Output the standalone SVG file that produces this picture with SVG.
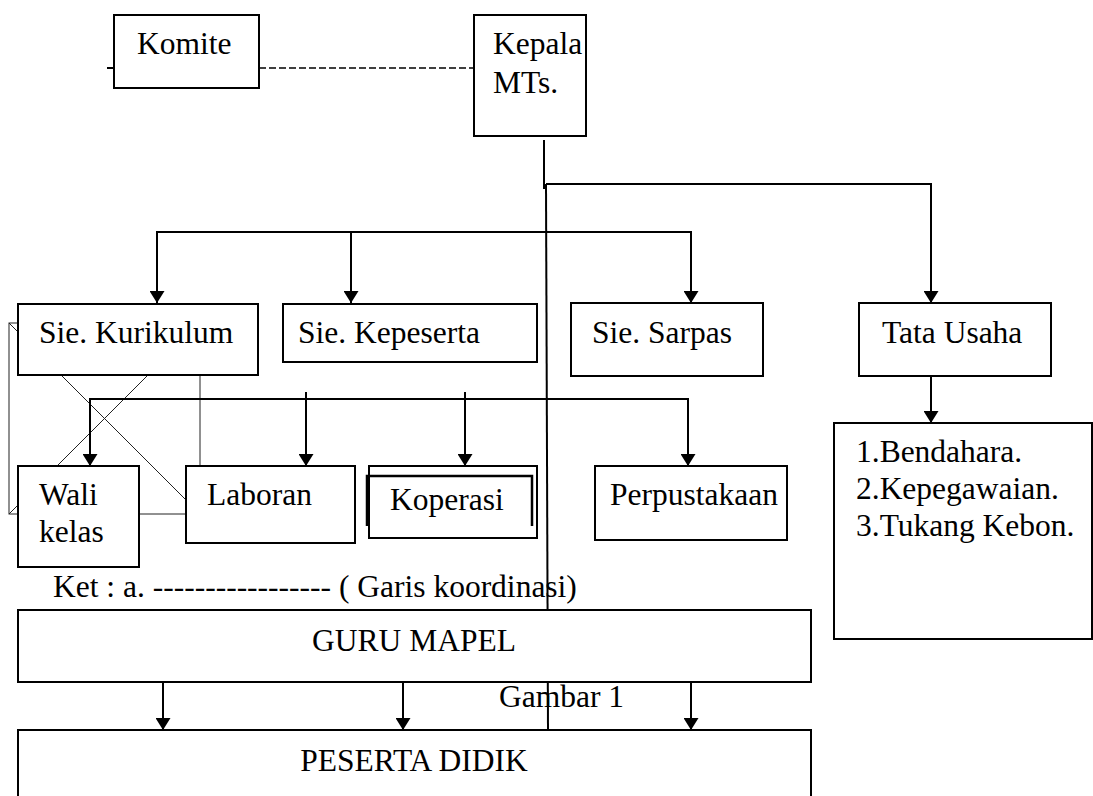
<svg xmlns="http://www.w3.org/2000/svg" width="1093" height="796" viewBox="0 0 1093 796">
<style>
text{font-family:"Liberation Serif","Times New Roman",serif;font-size:31.5px;fill:#000}
.box{fill:#fff;stroke:#000;stroke-width:2}
.ln{fill:none;stroke:#000;stroke-width:2}
.thin{fill:none;stroke:#222;stroke-width:1}
</style>
<defs>
<marker id="ah" viewBox="0 0 12 15" refX="12" refY="7.5" markerWidth="12" markerHeight="15" orient="auto" markerUnits="userSpaceOnUse"><path d="M0,0 L12,7.5 L0,15 z" fill="#000"/></marker>
</defs>
<g id="connectors">
<rect class="thin" x="9" y="323" width="191" height="191"/>
<line class="thin" x1="9" y1="323" x2="200" y2="514"/>
<line class="thin" x1="9" y1="514" x2="200" y2="323"/>
<line class="ln" x1="107" y1="68" x2="114" y2="68"/>
<line x1="259" y1="68" x2="474" y2="68" stroke="#000" stroke-width="1.5" stroke-dasharray="7,3"/>
<line class="ln" x1="544" y1="140" x2="544" y2="189"/>
<line class="ln" x1="546" y1="184" x2="548" y2="730"/>
<polyline class="ln" points="546,184 931,184 931,303" marker-end="url(#ah)"/>
<polyline class="ln" points="157,303 157,232 691,232 691,303" marker-end="url(#ah)"/>
<line class="ln" x1="157" y1="232" x2="157" y2="303" marker-end="url(#ah)"/>
<line class="ln" x1="351" y1="232" x2="351" y2="303" marker-end="url(#ah)"/>
<line class="ln" x1="931" y1="376" x2="931" y2="423" marker-end="url(#ah)"/>
<polyline class="ln" points="90,466 90,399 688,399 688,466" marker-end="url(#ah)"/>
<line class="ln" x1="90" y1="399" x2="90" y2="466" marker-end="url(#ah)"/>
<line class="ln" x1="306" y1="392" x2="306" y2="466" marker-end="url(#ah)"/>
<line class="ln" x1="465" y1="392" x2="465" y2="466" marker-end="url(#ah)"/>
<line class="ln" x1="163" y1="682" x2="163" y2="730" marker-end="url(#ah)"/>
<line class="ln" x1="403" y1="682" x2="403" y2="730" marker-end="url(#ah)"/>
<line class="ln" x1="691" y1="682" x2="691" y2="730" marker-end="url(#ah)"/>
</g>
<g id="komite"><rect class="box" x="114" y="15" width="145" height="73"/><text x="137" y="54">Komite</text></g>
<g id="kepala"><rect class="box" x="474" y="15" width="112" height="121"/><text x="493" y="54">Kepala</text><text x="493" y="93">MTs.</text></g>
<g id="kurikulum"><rect class="box" x="18" y="304" width="240" height="71"/><text x="39" y="343">Sie. Kurikulum</text></g>
<g id="kepeserta"><rect class="box" x="283" y="304" width="254" height="58"/><text x="298" y="343">Sie. Kepeserta</text></g>
<g id="sarpas"><rect class="box" x="571" y="303" width="192" height="73"/><text x="592" y="343">Sie. Sarpas</text></g>
<g id="tatausaha"><rect class="box" x="859" y="303" width="192" height="73"/><text x="882" y="343">Tata Usaha</text></g>
<g id="walikelas"><rect class="box" x="18" y="466" width="121" height="101"/><text x="39" y="505">Wali</text><text x="39" y="542">kelas</text></g>
<g id="laboran"><rect class="box" x="186" y="466" width="169" height="77"/><text x="207" y="505">Laboran</text></g>
<g id="koperasi"><rect class="box" x="369" y="466" width="168" height="72"/><path d="M367,526 V476 H532 V526" fill="none" stroke="#000" stroke-width="2.5"/><text x="390" y="510">Koperasi</text></g>
<g id="perpustakaan"><rect class="box" x="595" y="466" width="192" height="74"/><text x="610" y="505">Perpustakaan</text></g>
<g id="tu-list"><rect class="box" x="834" y="423" width="258" height="216"/><text x="856" y="462">1.Bendahara.</text><text x="856" y="499">2.Kepegawaian.</text><text x="856" y="536">3.Tukang Kebon.</text></g>
<g id="ket"><text x="53" y="597">Ket : a. ----------------- ( Garis koordinasi)</text></g>
<g id="gurumapel"><rect class="box" x="18" y="610" width="793" height="72"/><text x="414" y="651" text-anchor="middle">GURU MAPEL</text></g>
<g id="gambar"><text x="499" y="707">Gambar 1</text></g>
<g id="pesertadidik"><rect class="box" x="18" y="730" width="793" height="80"/><text x="414" y="771" text-anchor="middle">PESERTA DIDIK</text></g>
</svg>
